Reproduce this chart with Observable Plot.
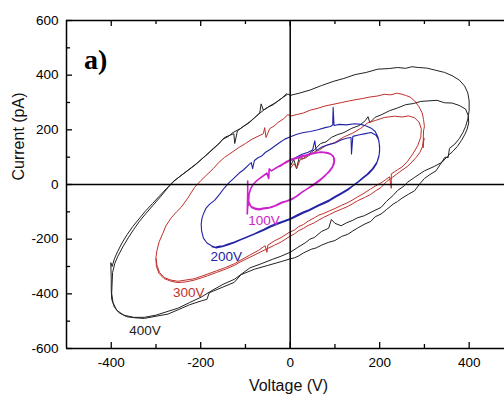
<!DOCTYPE html>
<html>
<head>
<meta charset="utf-8">
<script src="https://cdn.jsdelivr.net/npm/d3@7"></script>
<script src="https://cdn.jsdelivr.net/npm/@observablehq/plot@0.6"></script>
<style>
  html, body { margin: 0; padding: 0; background: #fff; }
  #chart { width: 504px; height: 400px; overflow: hidden; }
</style>
</head>
<body>
<div id="chart"></div>
<script>
// ---- tick values ----
const xMajor = [-400, -200, 0, 200, 400];
const xMinor = [-300, -100, 100, 300];
const yMajor = [-600, -400, -200, 0, 200, 400, 600];
const yMinor = [-500, -300, -100, 100, 300, 500];

// ---- loop labels ----
const labelText = ["400V", "300V", "200V", "100V"];
const labelV = [-360, -262, -178, -94];
const labelI = [-535, -394, -264, -134];
const labelColor = ["#222222", "#c0302c", "#2323a6", "#cc22cc"];

// ---- I-V loops: [voltage (V), current (pA)] ----
const loop400 = [
  [2,72],[8,92],[14,58],[20,98],[30,95],[42,112],[55,128],[68,150],[80,156],[92,172],[105,182],[120,190],[138,206],
  [155,216],[168,234],[174,248],[178,226],[190,246],[205,256],[222,270],[240,280],[258,292],[275,296],[292,304],
  [310,306],[328,308],[345,299],[362,298],[378,289],[392,276],[398,252],[399,225],[395,200],[390,182],[383,162],
  [374,140],[364,122],[352,104],[340,82],[322,66],[300,50],[278,26],[262,8],[255,-5],[240,-22],[230,-40],
  [215,-62],[203,-84],[185,-98],[166,-114],[150,-122],[140,-131],[126,-140],[114,-151],[100,-142],[92,-128],
  [86,-160],[70,-172],[54,-194],[44,-200],[35,-212],[17,-230],[0,-248],[-20,-262],[-40,-274],[-65,-290],
  [-90,-305],[-125,-347],[-150,-365],[-175,-388],[-199,-412],[-225,-432],[-250,-452],[-273,-464],[-300,-478],
  [-326,-486],[-350,-486],[-372,-478],[-388,-460],[-396,-432],[-399,-398],[-398,-360],[-397,-322],[-392,-288],
  [-385,-262],[-374,-228],[-362,-195],[-350,-165],[-337,-135],[-322,-105],[-306,-75],[-290,-45],[-273,-11],
  [-258,15],[-240,38],[-221,62],[-205,82],[-190,104],[-172,132],[-160,148],[-147,172],[-135,180],[-126,186],
  [-124,150],[-118,196],[-105,212],[-95,222],[-87,233],[-76,250],[-68,262],[-65,295],[-60,272],[-48,284],
  [-38,292],[-27,306],[-15,320],[-5,331],[0,326],
  [20,334],[45,346],[70,362],[98,378],[120,388],[145,402],[170,410],[196,422],[220,424],[240,428],[258,425],
  [272,431],[286,428],[305,426],[325,418],[345,410],[362,398],[378,382],[390,360],[397,335],[400,306],[400,270],
  [397,240],[392,212],[386,190],[378,168],[368,148],[356,132],[353,98],[346,100],[338,80],[326,50],[312,36],
  [300,22],[290,3],[278,-23],[264,-36],[250,-50],[240,-62],[230,-72],[215,-92],[203,-108],[190,-118],
  [180,-135],[165,-146],[150,-160],[140,-170],[129,-182],[115,-190],[100,-205],[85,-212],[70,-222],[58,-232],
  [47,-237],[30,-250],[18,-262],[10,-268],[0,-272],[-20,-282],[-50,-296],[-80,-310],[-110,-330],[-125,-358],
  [-150,-375],[-172,-390],[-181,-396],[-186,-420],[-199,-426],[-225,-440],[-250,-458],[-273,-474],[-300,-482],
  [-326,-490],[-345,-488],[-365,-484],[-382,-470],[-393,-448],[-399,-420],[-400,-385],[-400,-345],[-401,-286],
  [-398,-300],[-393,-272],[-386,-246],[-376,-214],[-364,-182],[-352,-154],[-338,-126],[-324,-98],[-308,-70],
  [-292,-42],[-276,-14],[-262,10],[-246,30],[-228,52],[-212,72],[-196,96],[-180,118],[-164,142],[-150,166],
  [-138,176],[-128,190],[-112,204],[-100,218],[-90,230],[-80,244],[-70,258],[-58,274],[-45,288],[-32,300],
  [-20,314],[-8,332]
];

const loop300 = [
  [0,58],[8,76],[15,60],[22,90],[35,98],[50,116],[65,126],[80,142],[100,154],[120,174],[140,188],[158,206],
  [174,226],[190,234],[210,245],[233,250],[250,247],[265,251],[278,244],[288,228],[293,204],[292,174],[285,142],
  [274,112],[262,84],[250,64],[240,54],[233,46],[226,39],[226,-14],[222,28],[212,16],[203,6],[190,-6],[180,-16],
  [165,-32],[150,-46],[140,-56],[129,-66],[115,-76],[100,-88],[88,-96],[75,-106],[64,-112],[54,-122],[40,-134],
  [30,-146],[18,-155],[10,-166],[-5,-178],[-20,-194],[-35,-206],[-50,-222],[-52,-248],[-56,-224],[-70,-240],
  [-90,-258],[-110,-276],[-125,-290],[-145,-304],[-165,-316],[-185,-328],[-199,-336],[-215,-345],[-235,-350],
  [-251,-354],[-266,-350],[-281,-341],[-292,-322],[-298,-295],[-300,-268],[-298,-243],[-293,-210],[-285,-180],
  [-278,-152],[-266,-122],[-254,-100],[-244,-84],[-229,-50],[-214,-11],[-200,14],[-186,36],[-172,58],[-160,80],
  [-147,99],[-130,118],[-115,135],[-100,150],[-85,166],[-70,178],[-60,186],[-57,208],[-54,172],[-46,204],
  [-36,214],[-27,227],[-15,240],[-5,256],[0,250],
  [15,256],[30,262],[45,272],[60,278],[80,288],[98,294],[115,300],[130,305],[145,310],[160,314],[178,320],
  [196,324],[210,330],[225,328],[238,334],[248,331],[258,326],[268,320],[278,306],[288,284],[295,262],[298,238],
  [300,212],[298,196],[297,134],[299,170],[296,140],[290,118],[282,100],[272,82],[262,66],[248,50],[238,38],
  [228,26],[215,10],[203,-11],[192,-22],[180,-36],[166,-48],[150,-60],[140,-70],[129,-80],[115,-90],[100,-100],
  [88,-110],[75,-120],[64,-130],[54,-140],[40,-150],[30,-160],[18,-170],[10,-180],[-5,-194],[-20,-210],
  [-35,-222],[-50,-234],[-70,-250],[-90,-266],[-110,-282],[-125,-296],[-145,-310],[-165,-322],[-185,-334],
  [-199,-342],[-215,-350],[-232,-356],[-251,-359],[-266,-354],[-282,-344],[-293,-326],[-299,-300],[-300,-272]
];

const loop200 = [
  [0,88],[12,98],[25,110],[40,118],[50,126],[55,160],[58,124],[72,138],[86,146],[100,152],[115,164],[128,170],
  [136,172],[137,112],[140,176],[155,182],[168,186],[181,190],[192,180],[198,162],[200,138],[199,110],[194,82],
  [184,58],[172,38],[160,22],[150,8],[140,-4],[129,-16],[115,-30],[100,-44],[88,-56],[75,-66],[64,-74],[54,-82],
  [42,-92],[30,-100],[15,-112],[0,-124],[-15,-134],[-30,-142],[-45,-152],[-60,-165],[-70,-172],[-80,-180],
  [-95,-190],[-110,-200],[-125,-210],[-139,-218],[-150,-224],[-160,-226],[-168,-230],[-176,-224],[-186,-214],
  [-194,-196],[-198,-170],[-199,-145],[-197,-122],[-193,-104],[-188,-86],[-180,-72],[-169,-58],[-158,-36],
  [-147,-12],[-136,8],[-125,24],[-114,42],[-104,54],[-94,70],[-87,80],[-84,58],[-80,88],[-72,98],[-64,104],
  [-55,118],[-45,128],[-35,140],[-25,152],[-12,166],[2,176],[15,184],[30,190],[45,194],[62,200],[78,208],
  [90,212],[95,218],[96,282],[98,216],[110,220],[125,218],[144,222],[158,220],[170,214],[181,206],[190,194],
  [196,174],[199,150],[200,124],[198,100],[193,76],[186,58],[176,40],[164,24],[150,6],[140,-6],[129,-20],
  [115,-34],[100,-48],[88,-60],[75,-70],[64,-78],[54,-86],[42,-96],[30,-104],[15,-116],[0,-128],[-15,-137],
  [-30,-146],[-45,-156],[-60,-168],[-80,-182],[-95,-192],[-110,-202],[-125,-213],[-139,-221],[-152,-228],
  [-165,-232],[-175,-228]
];

const loop100 = [
  [-95,13],[-95,-30],[-96,-108],[-95,-80],[-92,-70],[-86,-84],[-78,-90],[-69,-92],[-60,-89],[-50,-87],
  [-40,-82],[-30,-76],[-20,-68],[-10,-62],[2,-56],[15,-42],[25,-30],[38,-16],[54,2],[64,14],[72,24],[80,36],
  [88,48],[94,62],[98,76],[99,92],[96,104],[90,112],[84,116],[76,118],[69,119],[58,116],[47,113],[36,108],
  [25,104],[14,98],[2,92],[-10,82],[-20,72],[-30,62],[-42,50],[-47,57],[-48,22],[-52,42],[-60,32],[-68,22],
  [-76,12],[-83,0],[-88,-14],[-92,-36],[-93,-62],[-88,-80],[-80,-86],[-70,-90],[-58,-86],[-46,-84],[-34,-78],
  [-20,-66],[-8,-60],[2,-54],[14,-44],[28,-26],[40,-14],[54,0],[66,14],[78,32],[88,50],[95,66],[98,84],
  [97,100],[92,110],[84,114],[72,118],[60,116],[48,112],[36,106],[24,100],[12,95],[2,90],[-12,78],[-24,66]
];

const loops = [
  {data: loop400, color: labelColor[0], width: 1},
  {data: loop300, color: labelColor[1], width: 1},
  {data: loop200, color: labelColor[2], width: 1.1},
  {data: loop100, color: labelColor[3], width: 1.6}
];

const labels = labelText.map((t, k) => ({t, v: labelV[k], i: labelI[k], c: labelColor[k]}));

const plotH = 328, plotW = 438;

const chart = Plot.plot({
  width: 504,
  height: 400,
  marginLeft: 66,
  marginRight: 0,
  marginTop: 20,
  marginBottom: 52,
  style: {fontFamily: "'Liberation Sans', Arial, sans-serif", fontSize: "13.5px", color: "#000", background: "#fff"},
  x: {domain: [-500, 479]},
  y: {domain: [-600, 600]},
  marks: [
    // loops
    ...loops.map(L => Plot.line(L.data, {x: d => d[0], y: d => d[1], stroke: L.color, strokeWidth: L.width, strokeLinejoin: "round"})),
    // crosshair
    Plot.ruleX([0], {stroke: "#000", strokeWidth: 1.5}),
    Plot.ruleY([0], {stroke: "#000", strokeWidth: 1.5}),
    // frame (left, top, bottom)
    Plot.ruleX([-500], {stroke: "#000", strokeWidth: 1.5}),
    Plot.ruleY([600, -600], {stroke: "#000", strokeWidth: 1.5}),
    // inward ticks
    Plot.tickX(xMajor, {insetBottom: plotH - 6, stroke: "#000", strokeWidth: 1.3}),
    Plot.tickX(xMajor, {insetTop: plotH - 6, stroke: "#000", strokeWidth: 1.3}),
    Plot.tickX(xMinor, {insetBottom: plotH - 4, stroke: "#000", strokeWidth: 1.3}),
    Plot.tickX(xMinor, {insetTop: plotH - 4, stroke: "#000", strokeWidth: 1.3}),
    Plot.tickY(yMajor, {insetRight: plotW - 6, stroke: "#000", strokeWidth: 1.3}),
    Plot.tickY(yMinor, {insetRight: plotW - 4, stroke: "#000", strokeWidth: 1.3}),
    // axes labels
    Plot.axisX({ticks: xMajor, tickSize: 0, tickPadding: 9, tickFormat: d => String(d), label: null}),
    Plot.axisY({ticks: yMajor, tickSize: 0, tickPadding: 8, tickFormat: d => String(d), label: null}),
    Plot.text(["Voltage (V)"], {frameAnchor: "bottom", dx: 3, dy: 42, fontSize: 16, fill: "#111"}),
    Plot.text(["Current (pA)"], {frameAnchor: "left", dx: -48, dy: -4, rotate: -90, fontSize: 16, fill: "#111"}),
    // loop labels
    Plot.text(labels, {x: "v", y: "i", text: "t", fill: "c", textAnchor: "start", fontSize: 13.5}),
    // panel letter
    Plot.text(["a)"], {x: -461, y: 455, textAnchor: "start", fontSize: 28, fontWeight: "bold", fontFamily: "'Liberation Serif', 'Times New Roman', serif", fill: "#000"})
  ]
});

document.getElementById("chart").appendChild(chart);
</script>
</body>
</html>
